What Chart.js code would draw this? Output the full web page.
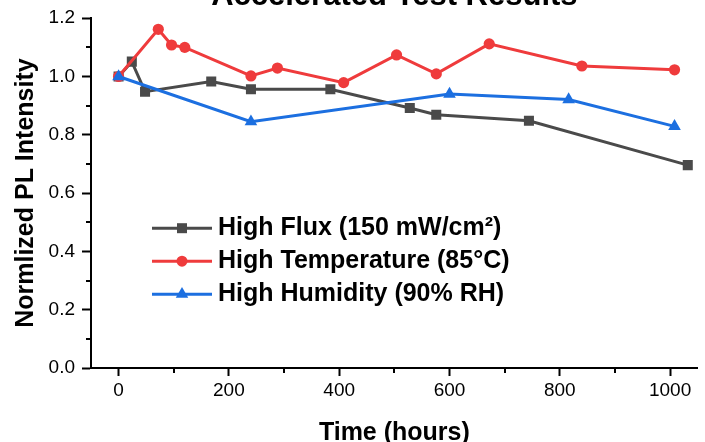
<!DOCTYPE html>
<html>
<head>
<meta charset="utf-8">
<script src="https://cdn.jsdelivr.net/npm/chart.js@4/dist/chart.umd.min.js"></script>
<style>
  html, body { margin: 0; padding: 0; background: #ffffff; }
  #wrap { position: relative; width: 705px; height: 442px; overflow: hidden; }
  #wrap canvas { position: absolute; left: 0; top: -30px; }
</style>
</head>
<body>
<div id="wrap"><canvas id="testChart" width="705" height="482"></canvas></div>
<script>
var FONT = "'Liberation Sans', Arial, sans-serif";

// data
var fluxHours = [0, 24, 48, 168, 240, 384, 528, 576, 744, 1032];
var fluxValues = [1.0, 1.051, 0.948, 0.983, 0.956, 0.956, 0.892, 0.869, 0.848, 0.696];

var tempHours = [0, 72, 96, 120, 240, 288, 408, 504, 576, 672, 840, 1008];
var tempValues = [1.0, 1.162, 1.108, 1.100, 1.002, 1.029, 0.979, 1.074, 1.009, 1.112, 1.036, 1.023];

var humHours = [0, 240, 600, 816, 1008];
var humValues = [1.0, 0.845, 0.940, 0.921, 0.829];

var seriesLabels = ["High Flux (150 mW/cm\u00b2)", "High Temperature (85\u00b0C)", "High Humidity (90% RH)"];
var seriesColors = ["#4a4a4a", "#ef3b3c", "#1c6fe0"];
var seriesMarkers = ["rect", "circle", "triangle"];

var xTickValues = [0, 200, 400, 600, 800, 1000];
var xMinorTicks = [100, 300, 500, 700, 900];
var yTickValues = [0, 0.2, 0.4, 0.6, 0.8, 1.0, 1.2];
var yMinorTicks = [0.1, 0.3, 0.5, 0.7, 0.9, 1.1];

function toPoints(xs, ys) {
    return xs.map(function (x, i) { return { x: x, y: ys[i] }; });
}

function drawMarker(ctx, style, x, y, color) {
    ctx.save();
    ctx.fillStyle = color;
    ctx.beginPath();
    if (style === "rect") {
        ctx.rect(x - 5, y - 5, 10, 10);
    } else if (style === "circle") {
        ctx.arc(x, y, 5.5, 0, Math.PI * 2);
    } else {
        var r = 7.2;
        ctx.moveTo(x, y - r);
        ctx.lineTo(x + r * 0.866, y + r / 2);
        ctx.lineTo(x - r * 0.866, y + r / 2);
        ctx.closePath();
    }
    ctx.fill();
    ctx.restore();
}

// minor ticks, taken from the scales
var minorTicks = {
    id: "minorTicks",
    afterDraw: function (chart) {
        var ctx = chart.ctx;
        var xs = chart.scales.x, ys = chart.scales.y;
        ctx.save();
        ctx.strokeStyle = "#000000";
        ctx.lineWidth = 2;
        ctx.beginPath();
        xMinorTicks.forEach(function (v) {
            var px = Math.round(xs.getPixelForValue(v));
            ctx.moveTo(px, xs.top);
            ctx.lineTo(px, xs.top + 5);
        });
        yMinorTicks.forEach(function (v) {
            var py = Math.round(ys.getPixelForValue(v));
            ctx.moveTo(ys.right, py);
            ctx.lineTo(ys.right - 5, py);
        });
        ctx.stroke();
        ctx.restore();
    }
};

// legend inside the plot, line with marker in the middle
var insideLegend = {
    id: "insideLegend",
    afterDraw: function (chart) {
        var ctx = chart.ctx;
        var area = chart.chartArea;
        var x0 = area.left + 61;
        var rows = [210, 243, 276];
        ctx.save();
        ctx.font = "bold 25px " + FONT;
        ctx.textBaseline = "middle";
        ctx.textAlign = "left";
        for (var i = 0; i < seriesLabels.length; i++) {
            var y = area.top + rows[i];
            ctx.strokeStyle = seriesColors[i];
            ctx.lineWidth = 3;
            ctx.beginPath();
            ctx.moveTo(x0, y);
            ctx.lineTo(x0 + 60, y);
            ctx.stroke();
            drawMarker(ctx, seriesMarkers[i], x0 + 30, y, seriesColors[i]);
            ctx.fillStyle = "#000000";
            ctx.fillText(seriesLabels[i], x0 + 66, y);
        }
        ctx.restore();
    }
};

function makeDataset(idx, xs, ys, radius, order) {
    return {
        label: seriesLabels[idx],
        data: toPoints(xs, ys),
        borderColor: seriesColors[idx],
        backgroundColor: seriesColors[idx],
        borderWidth: 3,
        pointStyle: seriesMarkers[idx],
        pointRadius: radius,
        pointHoverRadius: radius,
        pointBorderWidth: 0,
        tension: 0,
        order: order
    };
}

var ctx = document.getElementById("testChart").getContext("2d");
var testChart = new Chart(ctx, {
    type: "line",
    data: {
        datasets: [
            makeDataset(0, fluxHours, fluxValues, 7.1, 3),
            makeDataset(1, tempHours, tempValues, 5.6, 2),
            makeDataset(2, humHours, humValues, 7.3, 1)
        ]
    },
    options: {
        responsive: false,
        animation: false,
        layout: { padding: { left: 0, right: 7, top: 0, bottom: 0 } },
        plugins: {
            legend: { display: false },
            tooltip: { enabled: false },
            title: {
                display: true,
                text: "Accelerated Test Results",
                fullSize: false,
                color: "#000000",
                font: { size: 31, weight: "bold", family: FONT },
                padding: { top: 8, bottom: 3 }
            }
        },
        scales: {
            x: {
                type: "linear",
                min: -50,
                max: 1050,
                afterBuildTicks: function (scale) {
                    scale.ticks = xTickValues.map(function (v) { return { value: v }; });
                },
                afterFit: function (scale) { scale.height = 84; },
                border: { display: true, color: "#000000", width: 2 },
                grid: { drawOnChartArea: false, drawTicks: true, tickLength: 8, tickColor: "#000000", tickWidth: 2 },
                ticks: {
                    color: "#000000",
                    padding: 3,
                    maxRotation: 0,
                    font: { size: 19, family: FONT },
                    callback: function (v) { return v; }
                },
                title: {
                    display: true,
                    text: "Time (hours)",
                    color: "#000000",
                    font: { size: 25, weight: "bold", family: FONT },
                    padding: { top: 0, bottom: 4 }
                }
            },
            y: {
                type: "linear",
                min: 0,
                max: 1.2,
                afterBuildTicks: function (scale) {
                    scale.ticks = yTickValues.map(function (v) { return { value: v }; });
                },
                afterFit: function (scale) { scale.width = 91; },
                border: { display: true, color: "#000000", width: 2 },
                grid: { drawOnChartArea: false, drawTicks: true, tickLength: 9, tickColor: "#000000", tickWidth: 2 },
                ticks: {
                    color: "#000000",
                    padding: 7,
                    font: { size: 19, family: FONT },
                    callback: function (v) { return Number(v).toFixed(1); }
                },
                title: {
                    display: true,
                    text: "Normlized PL Intensity",
                    color: "#000000",
                    font: { size: 25, weight: "bold", family: FONT },
                    padding: { top: 11, bottom: 0 }
                }
            }
        }
    },
    plugins: [minorTicks, insideLegend]
});
</script>
</body>
</html>
